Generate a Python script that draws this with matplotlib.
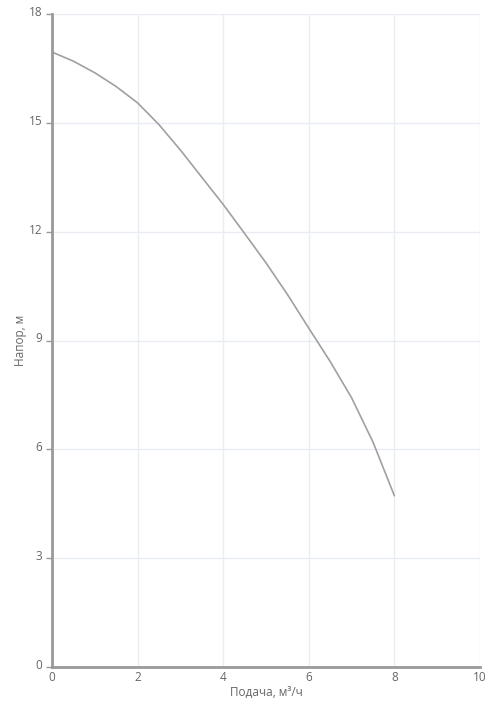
import matplotlib
matplotlib.use("Agg")
import matplotlib.pyplot as plt
import matplotlib.transforms as mtransforms

flow = [0, 0.5, 1, 1.5, 2, 2.5, 3, 3.5, 4, 4.5, 5, 5.5, 6, 6.5, 7, 7.5, 8]
head = [16.95, 16.7, 16.38, 16.0, 15.55, 14.95, 14.25, 13.5, 12.75, 11.95, 11.14, 10.27, 9.34, 8.42, 7.42, 6.2, 4.72]

x_ticks = [0, 2, 4, 6, 8, 10]
y_ticks = [0, 3, 6, 9, 12, 15, 18]

plt.rcParams['font.family'] = ['Open Sans', 'DejaVu Sans']

fig = plt.figure(figsize=(4.91, 7.14), dpi=100)
ax = fig.add_axes([52/491, 1-667/714, 428/491, 653/714])

ax.plot(flow, head, color='#a0a0a0', lw=1.2, solid_capstyle='round', solid_joinstyle='round')

ax.set_xlim(0, 10)
ax.set_ylim(0, 18)
ax.set_xticks(x_ticks)
ax.set_yticks(y_ticks)
ax.grid(True, color='#e9ecf3', lw=1)
ax.set_axisbelow(True)

for s in ['top', 'right']:
    ax.spines[s].set_visible(False)
for s in ['left', 'bottom']:
    ax.spines[s].set_color('#999999')
    ax.spines[s].set_linewidth(2)

ax.tick_params(axis='x', length=0, pad=3, labelsize=8.5, labelcolor='#666666')
ax.tick_params(axis='y', length=4, width=1, color='#999999', pad=3, labelsize=8.5, labelcolor='#666666')
offset = mtransforms.ScaledTranslation(0, 3/100, fig.dpi_scale_trans)
for lbl in ax.get_yticklabels():
    lbl.set_transform(lbl.get_transform() + offset)

ax.set_xlabel('Подача, м³/ч', fontsize=8.5, color='#666666', labelpad=1)
ax.set_ylabel('Напор, м', fontsize=8.5, color='#666666', labelpad=1)

fig.savefig('out.png', dpi=100)
